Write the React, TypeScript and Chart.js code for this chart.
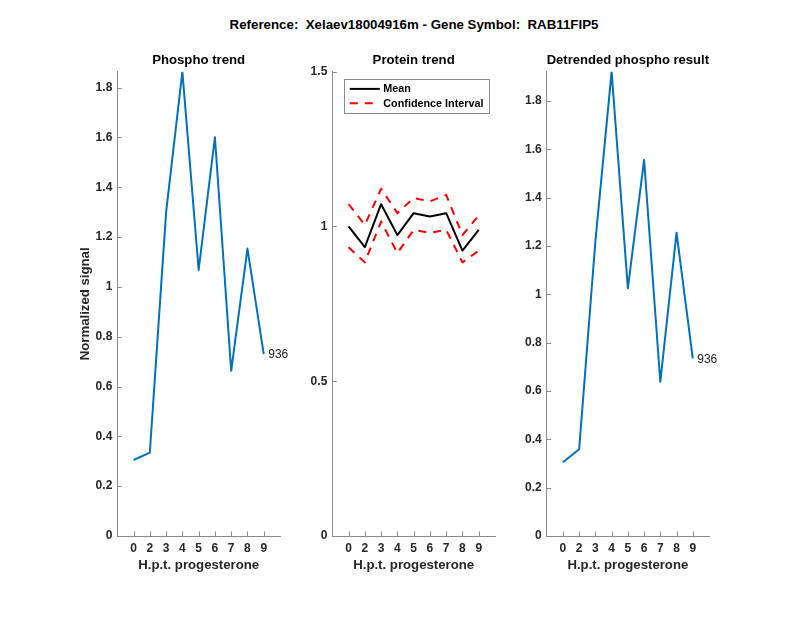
import React, { useEffect, useRef } from "react";
import { Chart, registerables } from "chart.js";

Chart.register(...registerables);

// ---------- data ----------
const mainTitle = "Reference:  Xelaev18004916m - Gene Symbol:  RAB11FIP5";
const hptLabels = ["0", "2", "3", "4", "5", "6", "7", "8", "9"];
const phosphoValues = [0.305, 0.335, 1.3, 1.864, 1.068, 1.601, 0.663, 1.154, 0.73];
const proteinMean = [1.0, 0.933, 1.072, 0.972, 1.043, 1.032, 1.043, 0.922, 0.989];
const proteinUpper = [1.072, 1.005, 1.122, 1.043, 1.092, 1.081, 1.102, 0.972, 1.036];
const proteinLower = [0.933, 0.884, 1.016, 0.914, 0.989, 0.979, 0.989, 0.884, 0.922];
const detrendedValues = [0.305, 0.359, 1.22, 1.921, 1.025, 1.556, 0.638, 1.255, 0.735];
const phosphoTicks = [0, 0.2, 0.4, 0.6, 0.8, 1, 1.2, 1.4, 1.6, 1.8];
const proteinTicks = [0, 0.5, 1, 1.5];
const detrendedTicks = [0, 0.2, 0.4, 0.6, 0.8, 1, 1.2, 1.4, 1.6, 1.8];
const peptideLabel = "936";
const xAxisTitle = "H.p.t. progesterone";
const yAxisTitle = "Normalized signal";

// ---------- styles ----------
const FONT = "'Liberation Sans', Arial, Helvetica, sans-serif";
const BLUE = "#0072BD";
const AXIS = "#8a8a8a";
const TICK_TEXT = "#262626";
const DASH = [8, 7];

const inwardTicks = {
  id: "inwardTicks",
  afterDraw(chart: any) {
    const { ctx, chartArea, scales } = chart;
    ctx.save();
    ctx.strokeStyle = AXIS;
    ctx.lineWidth = 1;
    ctx.beginPath();
    scales.x.ticks.forEach((t: any) => {
      const px = Math.round(scales.x.getPixelForValue(t.value)) + 0.5;
      ctx.moveTo(px, chartArea.bottom);
      ctx.lineTo(px, chartArea.bottom - 4.5);
    });
    scales.y.ticks.forEach((t: any) => {
      const py = Math.round(scales.y.getPixelForValue(t.value)) + 0.5;
      ctx.moveTo(chartArea.left, py);
      ctx.lineTo(chartArea.left + 4.5, py);
    });
    ctx.stroke();
    ctx.restore();
  },
};

function endLabelPlugin(text: string) {
  return {
    id: "endLabel",
    afterDatasetsDraw(chart: any) {
      const meta = chart.getDatasetMeta(0);
      const pt = meta.data[meta.data.length - 1];
      if (!pt) return;
      const { ctx } = chart;
      ctx.save();
      ctx.font = `normal 12px ${FONT}`;
      ctx.fillStyle = "#1a1a1a";
      ctx.textAlign = "left";
      ctx.textBaseline = "middle";
      ctx.fillText(text, pt.x + 4.5, pt.y + 1);
      ctx.restore();
    },
  };
}

const boxLegend = {
  id: "boxLegend",
  afterDraw(chart: any) {
    const { ctx, chartArea } = chart;
    const items = chart.data.datasets.filter((d: any) => !d.hideInLegend);
    const left = chartArea.left + 12;
    const top = chartArea.top + 7.2;
    const w = 145;
    const h = 34;
    ctx.save();
    ctx.fillStyle = "#fff";
    ctx.fillRect(left, top, w, h);
    ctx.strokeStyle = AXIS;
    ctx.lineWidth = 1;
    ctx.strokeRect(Math.round(left) + 0.5, Math.round(top) + 0.5, Math.round(w), Math.round(h));
    items.forEach((d: any, i: number) => {
      const y = top + 10 + i * 14.3;
      ctx.beginPath();
      ctx.strokeStyle = d.borderColor;
      ctx.lineWidth = d.borderWidth;
      ctx.setLineDash(d.borderDash || []);
      ctx.moveTo(left + 5.5, y);
      ctx.lineTo(left + 35.5, y);
      ctx.stroke();
      ctx.setLineDash([]);
      ctx.font = `bold 10.8px ${FONT}`;
      ctx.fillStyle = "#000";
      ctx.textAlign = "left";
      ctx.textBaseline = "middle";
      ctx.fillText(d.label, left + 39, y + 0.5);
    });
    ctx.restore();
  },
};

type PanelOpts = {
  title: string;
  datasets: any[];
  yTicks: number[];
  yMax: number;
  yWidth: number;
  padRight: number;
  yTitle?: string;
  plugins: any[];
};

function toPoints(values: number[]) {
  return values.map((v, i) => ({ x: i, y: v }));
}

function makeConfig(o: PanelOpts): any {
  return {
    type: "line",
    data: { datasets: o.datasets },
    plugins: [inwardTicks, ...o.plugins],
    options: {
      responsive: false,
      animation: false,
      events: [],
      layout: { padding: { left: 0, right: o.padRight, top: 0, bottom: 45 } },
      elements: {
        point: { radius: 0 },
        line: { tension: 0, borderJoinStyle: "round", borderCapStyle: "butt" },
      },
      plugins: {
        legend: { display: false },
        tooltip: { enabled: false },
        title: {
          display: true,
          text: o.title,
          fullSize: false,
          color: "#000",
          font: { family: FONT, size: 13.2, weight: "bold", lineHeight: 1.2 },
          padding: { top: 52.08, bottom: 3.78 },
        },
      },
      scales: {
        x: {
          type: "linear",
          min: -1,
          max: hptLabels.length,
          bounds: "data",
          afterBuildTicks: (s: any) => {
            s.ticks = hptLabels.map((_, i) => ({ value: i }));
          },
          afterFit: (s: any) => {
            s.height = 37;
          },
          ticks: {
            autoSkip: false,
            maxRotation: 0,
            padding: 5.5,
            color: TICK_TEXT,
            font: { family: FONT, size: 12, weight: "bold" },
            callback: (_v: any, i: number) => hptLabels[i],
          },
          grid: { display: false, drawTicks: false },
          border: { display: true, color: AXIS, width: 1 },
          title: {
            display: true,
            text: xAxisTitle,
            color: TICK_TEXT,
            font: { family: FONT, size: 13.2, weight: "bold", lineHeight: 1.2 },
            padding: { top: 0, bottom: 0 },
          },
        },
        y: {
          type: "linear",
          min: 0,
          max: o.yMax,
          bounds: "data",
          afterBuildTicks: (s: any) => {
            s.ticks = o.yTicks.map((v) => ({ value: v }));
          },
          afterFit: (s: any) => {
            s.width = o.yWidth;
          },
          ticks: {
            padding: 5,
            color: TICK_TEXT,
            font: { family: FONT, size: 12, weight: "bold" },
            callback: (v: any) => String(v),
          },
          grid: { display: false, drawTicks: false },
          border: { display: true, color: AXIS, width: 1 },
          title: {
            display: !!o.yTitle,
            text: o.yTitle || "",
            color: TICK_TEXT,
            font: { family: FONT, size: 13.2, weight: "bold", lineHeight: 1.2 },
            padding: { top: 77.58, bottom: 0 },
          },
        },
      },
    },
  };
}

export default function App() {
  const leftRef = useRef<HTMLCanvasElement>(null);
  const midRef = useRef<HTMLCanvasElement>(null);
  const rightRef = useRef<HTMLCanvasElement>(null);

  useEffect(() => {
    Chart.defaults.font.family = FONT;
    const charts: Chart[] = [];

    charts.push(
      new Chart(
        leftRef.current as HTMLCanvasElement,
        makeConfig({
          title: "Phospho trend",
          datasets: [
            { label: "Phospho", data: toPoints(phosphoValues), borderColor: BLUE, borderWidth: 2, fill: false },
          ],
          yTicks: phosphoTicks,
          yMax: Math.max(...phosphoValues),
          yWidth: 117.3,
          padRight: 20,
          yTitle: yAxisTitle,
          plugins: [endLabelPlugin(peptideLabel)],
        })
      )
    );

    charts.push(
      new Chart(
        midRef.current as HTMLCanvasElement,
        makeConfig({
          title: "Protein trend",
          datasets: [
            { label: "Mean", data: toPoints(proteinMean), borderColor: "#000", borderWidth: 2, fill: false },
            {
              label: "Confidence Interval",
              data: toPoints(proteinUpper),
              borderColor: "#ff0000",
              borderWidth: 2,
              borderDash: DASH,
              fill: false,
            },
            {
              label: "Confidence Interval (lower)",
              hideInLegend: true,
              data: toPoints(proteinLower),
              borderColor: "#ff0000",
              borderWidth: 2,
              borderDash: DASH,
              fill: false,
            },
          ],
          yTicks: proteinTicks,
          yMax: 1.5,
          yWidth: 32.3,
          padRight: 25,
          plugins: [boxLegend],
        })
      )
    );

    charts.push(
      new Chart(
        rightRef.current as HTMLCanvasElement,
        makeConfig({
          title: "Detrended phospho result",
          datasets: [
            { label: "Detrended", data: toPoints(detrendedValues), borderColor: BLUE, borderWidth: 2, fill: false },
          ],
          yTicks: detrendedTicks,
          yMax: Math.max(...detrendedValues),
          yWidth: 26.7,
          padRight: 91,
          plugins: [endLabelPlugin(peptideLabel)],
        })
      )
    );

    return () => charts.forEach((c) => c.destroy());
  }, []);

  const canvasStyle = (left: number): React.CSSProperties => ({
    position: "absolute",
    left,
    top: 0,
    display: "block",
  });

  return (
    <div
      style={{
        position: "fixed",
        left: 0,
        top: 0,
        width: 800,
        height: 618,
        background: "#fff",
        overflow: "hidden",
      }}
    >
      <div
        style={{
          position: "absolute",
          left: 14,
          top: 17.4,
          width: 800,
          textAlign: "center",
          whiteSpace: "pre",
          fontFamily: FONT,
          fontWeight: "bold",
          fontSize: 13.3,
          lineHeight: "16px",
          color: "#000",
        }}
      >
        {mainTitle}
      </div>
      <canvas ref={leftRef} width={300} height={618} style={canvasStyle(0)} />
      <canvas ref={midRef} width={220} height={618} style={canvasStyle(300)} />
      <canvas ref={rightRef} width={280} height={618} style={canvasStyle(520)} />
    </div>
  );
}
